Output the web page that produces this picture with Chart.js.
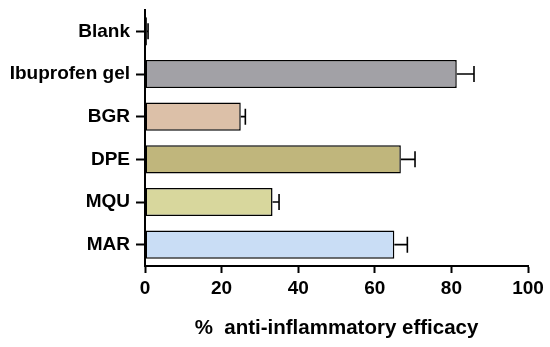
<!DOCTYPE html>
<html>
<head>
<meta charset="utf-8">
<script src="https://cdn.jsdelivr.net/npm/chart.js@4"></script>
<style>
    html, body { margin: 0; padding: 0; background: #fff; }
    #wrap { width: 550px; height: 347px; }
</style>
</head>
<body>
<div id="wrap"><canvas id="myBarChart" width="550" height="347"></canvas></div>
<script>
// Data
const groups = ['Blank', 'Ibuprofen gel', 'BGR', 'DPE', 'MQU', 'MAR'];
const efficacy = [0.5, 81.4, 25.0, 66.8, 33.3, 65.1];
const errors = [0.3, 4.5, 1.2, 3.7, 1.7, 3.4];
const barColors = ['#a0a0a0', '#a2a1a6', '#dcc0a8', '#c0b67c', '#d8d79d', '#c9ddf5'];
const xTicks = [0, 20, 40, 60, 80, 100];
const xTitle = '%  anti-inflammatory efficacy';

// Draw one-sided error bars (to the right) with a cap
const errorBars = {
    id: 'errorBars',
    afterDatasetsDraw(chart) {
        const ctx = chart.ctx;
        const xs = chart.scales.x;
        const meta = chart.getDatasetMeta(0);
        ctx.save();
        ctx.strokeStyle = '#000';
        ctx.lineWidth = 1.6;
        meta.data.forEach(function(bar, i) {
            const x0 = xs.getPixelForValue(efficacy[i]);
            const x1 = xs.getPixelForValue(efficacy[i] + errors[i]);
            const y = bar.y;
            const cap = 8;
            ctx.beginPath();
            ctx.moveTo(x0, y);
            ctx.lineTo(x1, y);
            ctx.moveTo(x1, y - cap);
            ctx.lineTo(x1, y + cap);
            ctx.stroke();
        });
        ctx.restore();
    }
};

const font = { family: 'Arial, "Liberation Sans", sans-serif', weight: 'bold', size: 19 };

const ctxBar = document.getElementById('myBarChart').getContext('2d');
const myBarChart = new Chart(ctxBar, {
    type: 'bar',
    data: {
        labels: groups,
        datasets: [{
            data: efficacy,
            backgroundColor: barColors,
            borderColor: '#000',
            borderWidth: 1.5,
            borderSkipped: false,
            barPercentage: 0.66,
            categoryPercentage: 1.0
        }]
    },
    options: {
        indexAxis: 'y',
        responsive: false,
        animation: false,
        devicePixelRatio: 1,
        layout: { padding: { top: 10, right: 22, left: 0, bottom: 0 } },
        plugins: {
            legend: { display: false },
            tooltip: { enabled: false }
        },
        scales: {
            x: {
                min: 0,
                max: 100,
                afterBuildTicks: function(scale) {
                    scale.ticks = xTicks.map(v => ({ value: v }));
                },
                afterFit: function(scale) {
                    scale.height = 81;
                    scale.paddingLeft = 0;
                    scale.paddingRight = 0;
                },
                border: { display: true, color: '#000', width: 2 },
                grid: { drawOnChartArea: false, drawTicks: true, tickLength: 7, tickColor: '#000', tickWidth: 2 },
                ticks: { color: '#000', font: font, padding: 4, maxRotation: 0 },
                title: {
                    display: true,
                    text: xTitle,
                    color: '#000',
                    font: { family: font.family, weight: 'bold', size: 20.5 },
                    padding: { top: 3, bottom: 6 }
                }
            },
            y: {
                offset: true,
                afterFit: function(scale) {
                    scale.width = 145;
                    scale.paddingTop = 0;
                    scale.paddingBottom = 0;
                },
                border: { display: true, color: '#000', width: 2 },
                grid: { offset: false, drawOnChartArea: false, drawTicks: true, tickLength: 9, tickColor: '#000', tickWidth: 2 },
                ticks: { color: '#000', font: font, padding: 6 }
            }
        }
    },
    plugins: [errorBars]
});
</script>
</body>
</html>
